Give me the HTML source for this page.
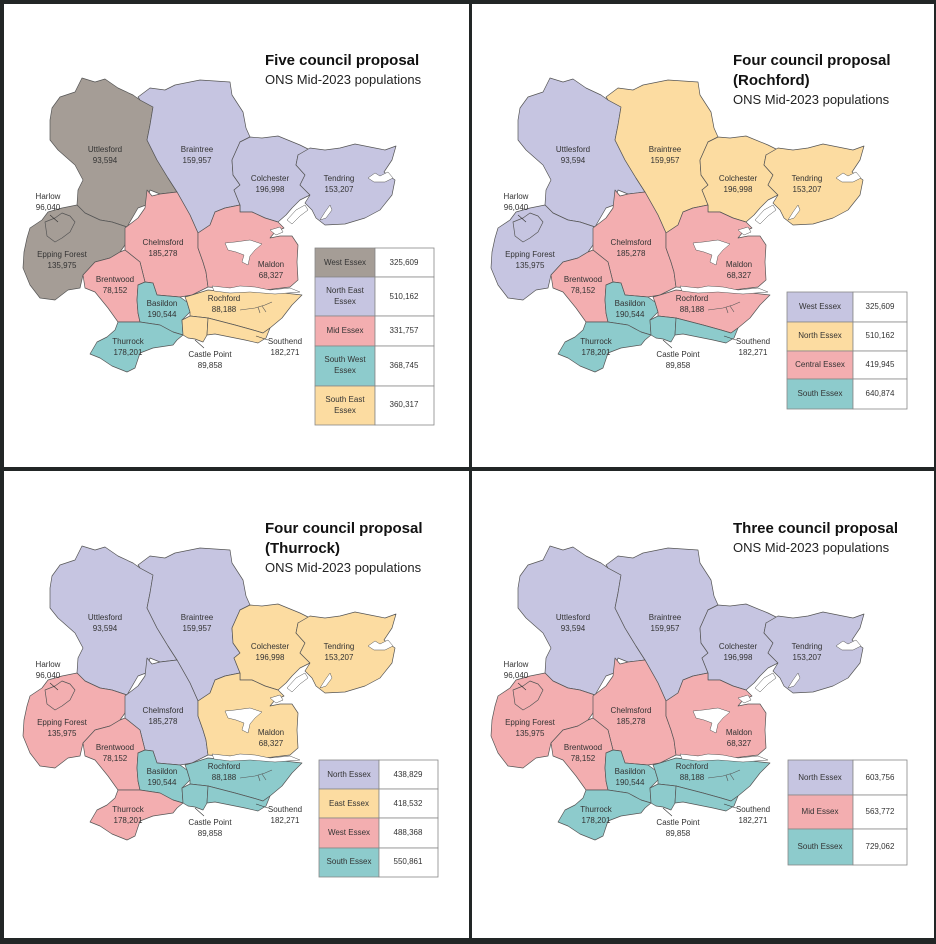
<!DOCTYPE html>
<html><head><meta charset="utf-8"><style>
html,body{margin:0;padding:0;background:#222626;}
svg{display:block}
text{font-family:"Liberation Sans",sans-serif;}
.l{font-size:8px;fill:#333;text-anchor:middle;dominant-baseline:middle}
.t{font-size:15px;font-weight:bold;fill:#111}
.s{font-size:13px;fill:#222}
.g{font-size:8px;fill:#333;text-anchor:middle;dominant-baseline:middle}
path.d{stroke:#555;stroke-width:0.7;stroke-linejoin:round}
</style></head><body>
<svg width="936" height="944" viewBox="0 0 936 944" xmlns="http://www.w3.org/2000/svg">
<defs>
<g id="map">
<!-- Uttlesford -->
<path class="d" fill="var(--utt)" d="M52,108 L60,97 L75,92 L82,78 L95,82 L105,79 L118,88 L133,95 L140,100 L153,107 L150,125 L147,140 L157,160 L168,178 L177,192 L160,194 L150,190 L146,205 L138,208 L127,227 L112,222 L100,220 L85,213 L77,205 L78,190 L83,180 L75,165 L58,150 L50,140 L50,120 Z"/>
<!-- Braintree -->
<path class="d" fill="var(--bra)" d="M138,97 L150,88 L165,90 L175,85 L200,80 L230,82 L232,95 L243,112 L246,128 L250,137 L240,142 L232,160 L233,175 L240,185 L234,190 L240,205 L225,208 L215,212 L210,225 L198,233 L190,215 L177,192 L168,178 L157,160 L147,140 L150,125 L153,107 L140,100 Z"/>
<!-- Colchester -->
<path class="d" fill="var(--col)" d="M250,137 L262,138 L278,136 L300,145 L310,150 L298,155 L296,165 L305,175 L300,185 L310,195 L300,200 L292,208 L286,215 L278,222 L265,218 L252,212 L240,212 L240,205 L234,190 L240,185 L233,175 L232,160 L240,142 Z"/>
<!-- Tendring -->
<path class="d" fill="var(--ten)" d="M298,155 L310,148 L325,150 L340,148 L355,144 L370,147 L385,150 L396,146 L392,160 L384,172 L395,180 L392,195 L380,210 L365,218 L345,224 L325,225 L316,218 L312,210 L305,203 L310,195 L300,185 L305,175 L296,165 Z"/>
<!-- Epping Forest -->
<path class="d" fill="var(--epp)" d="M27,238 L30,228 L42,220 L48,212 L62,208 L77,205 L85,213 L100,220 L112,222 L127,227 L125,245 L120,252 L110,258 L95,262 L83,275 L80,288 L68,290 L55,300 L40,298 L30,285 L23,268 L24,252 Z"/>
<!-- Harlow -->
<path class="d" fill="var(--har)" d="M45,222 L55,218 L62,213 L70,216 L75,222 L70,232 L62,238 L55,242 L47,236 Z"/>
<!-- Chelmsford -->
<path class="d" fill="var(--che)" d="M125,228 L138,218 L145,208 L147,190 L152,196 L160,194 L177,192 L190,215 L198,233 L198,248 L203,262 L206,272 L208,287 L192,295 L180,297 L157,295 L153,283 L145,282 L140,262 L125,250 Z"/>
<!-- Maldon -->
<path class="d" fill="var(--mal)" d="M198,233 L210,225 L215,212 L225,208 L240,205 L240,212 L252,212 L265,218 L278,222 L284,228 L275,232 L270,238 L280,236 L292,236 L298,245 L297,262 L298,280 L290,287 L265,290 L240,288 L220,288 L208,287 L206,272 L203,262 L198,248 Z"/>
<!-- Brentwood -->
<path class="d" fill="var(--bre)" d="M83,275 L95,262 L110,258 L120,252 L125,250 L140,262 L145,282 L138,285 L137,300 L138,313 L140,322 L118,322 L108,308 L95,292 L85,288 Z"/>
<!-- Basildon -->
<path class="d" fill="var(--bas)" d="M138,285 L145,282 L153,283 L157,295 L180,297 L187,302 L190,312 L182,320 L183,335 L173,332 L160,325 L140,322 L138,313 L137,300 Z"/>
<!-- Rochford -->
<path class="d" fill="var(--roc)" d="M185,297 L192,295 L208,290 L230,292 L250,290 L275,292 L302,295 L292,305 L282,318 L270,328 L263,333 L253,330 L235,325 L208,318 L190,316 L190,312 L187,302 Z"/>
<!-- Castle Point -->
<path class="d" fill="var(--cas)" d="M182,320 L190,316 L208,318 L207,335 L203,342 L195,339 L188,338 L183,335 Z"/>
<!-- Southend -->
<path class="d" fill="var(--sou)" d="M208,318 L235,325 L253,330 L263,333 L270,328 L266,338 L258,343 L245,340 L230,337 L215,334 L207,335 Z"/>
<!-- Thurrock -->
<path class="d" fill="var(--thu)" d="M118,322 L140,322 L160,325 L173,332 L183,335 L177,340 L173,345 L153,348 L140,353 L135,368 L127,372 L112,366 L100,358 L90,354 L97,342 L107,337 L115,330 Z"/>
<!-- water -->
<path fill="#fff" stroke="#555" stroke-width="0.5" d="M225,243 L235,242 L250,240 L262,244 L255,250 L250,256 L248,265 L242,262 L244,255 L236,252 L228,250 Z"/>
<path fill="#fff" stroke="#555" stroke-width="0.5" d="M270,230 L280,227 L283,232 L276,235 Z"/>
<path fill="#fff" stroke="#555" stroke-width="0.5" d="M287,220 L296,210 L305,205 L308,210 L300,216 L292,224 Z"/>
<path fill="#fff" stroke="#555" stroke-width="0.5" d="M320,220 L325,212 L330,205 L332,210 L326,218 Z"/>
<path fill="#fff" stroke="#555" stroke-width="0.5" d="M368,178 L375,173 L380,176 L388,172 L393,178 L385,182 L374,182 Z"/>
<path fill="#fff" stroke="#555" stroke-width="0.5" d="M212,286 L230,288 L240,286 L255,287 L270,290 L290,288 L300,292 L275,294 L250,292 L230,293 L214,291 Z"/>
<path fill="none" stroke="#555" stroke-width="0.6" d="M240,310 L255,308 L265,305 L272,302 M262,306 L266,312 M258,307 L260,313"/>
<!-- labels -->
<text class="l" x="105" y="150">Uttlesford</text><text class="l" x="105" y="161">93,594</text>
<text class="l" x="197" y="150">Braintree</text><text class="l" x="197" y="161">159,957</text>
<text class="l" x="270" y="179">Colchester</text><text class="l" x="270" y="190">196,998</text>
<text class="l" x="339" y="179">Tendring</text><text class="l" x="339" y="190">153,207</text>
<text class="l" x="48" y="197">Harlow</text><text class="l" x="48" y="208">96,040</text>
<path d="M50,215 L58,222" stroke="#333" stroke-width="0.6"/>
<text class="l" x="62" y="255">Epping Forest</text><text class="l" x="62" y="266">135,975</text>
<text class="l" x="163" y="243">Chelmsford</text><text class="l" x="163" y="254">185,278</text>
<text class="l" x="271" y="265">Maldon</text><text class="l" x="271" y="276">68,327</text>
<text class="l" x="115" y="280">Brentwood</text><text class="l" x="115" y="291">78,152</text>
<text class="l" x="162" y="304">Basildon</text><text class="l" x="162" y="315">190,544</text>
<text class="l" x="224" y="299">Rochford</text><text class="l" x="224" y="310">88,188</text>
<text class="l" x="128" y="342">Thurrock</text><text class="l" x="128" y="353">178,201</text>
<text class="l" x="210" y="355">Castle Point</text><text class="l" x="210" y="366">89,858</text>
<path d="M204,348 L195,340" stroke="#333" stroke-width="0.6"/>
<text class="l" x="285" y="342">Southend</text><text class="l" x="285" y="353">182,271</text>
<path d="M268,340 L256,336" stroke="#333" stroke-width="0.6"/>
</g>
</defs>

<rect x="4" y="4" width="465" height="463" fill="#fff"/>
<rect x="472" y="4" width="462" height="463" fill="#fff"/>
<rect x="4" y="471" width="465" height="467" fill="#fff"/>
<rect x="472" y="471" width="462" height="467" fill="#fff"/>

<!-- Panel 1 -->
<use href="#map" style="--utt:#a59d96;--epp:#a59d96;--har:#a59d96;--bra:#c6c5e1;--col:#c6c5e1;--ten:#c6c5e1;--che:#f3aeb0;--mal:#f3aeb0;--bre:#f3aeb0;--bas:#8dcbcc;--thu:#8dcbcc;--roc:#fcdca1;--sou:#fcdca1;--cas:#fcdca1"/>
<text class="t" x="265" y="65">Five council proposal</text>
<text class="s" x="265" y="84">ONS Mid-2023 populations</text>
<g stroke="#888" stroke-width="0.8">
<rect x="315" y="248" width="60" height="29" fill="#a59d96"/><rect x="375" y="248" width="59" height="29" fill="#fff"/>
<rect x="315" y="277" width="60" height="39" fill="#c6c5e1"/><rect x="375" y="277" width="59" height="39" fill="#fff"/>
<rect x="315" y="316" width="60" height="30" fill="#f3aeb0"/><rect x="375" y="316" width="59" height="30" fill="#fff"/>
<rect x="315" y="346" width="60" height="40" fill="#8dcbcc"/><rect x="375" y="346" width="59" height="40" fill="#fff"/>
<rect x="315" y="386" width="60" height="39" fill="#fcdca1"/><rect x="375" y="386" width="59" height="39" fill="#fff"/>
</g>
<text class="g" x="345" y="263">West Essex</text><text class="g" x="404" y="263">325,609</text>
<text class="g" x="345" y="291">North East</text><text class="g" x="345" y="302">Essex</text><text class="g" x="404" y="297">510,162</text>
<text class="g" x="345" y="331">Mid Essex</text><text class="g" x="404" y="331">331,757</text>
<text class="g" x="345" y="360">South West</text><text class="g" x="345" y="371">Essex</text><text class="g" x="404" y="366">368,745</text>
<text class="g" x="345" y="400">South East</text><text class="g" x="345" y="411">Essex</text><text class="g" x="404" y="405">360,317</text>

<!-- Panel 2 -->
<use href="#map" transform="translate(468,0)" style="--utt:#c6c5e1;--epp:#c6c5e1;--har:#c6c5e1;--bra:#fcdca1;--col:#fcdca1;--ten:#fcdca1;--che:#f3aeb0;--mal:#f3aeb0;--bre:#f3aeb0;--roc:#f3aeb0;--bas:#8dcbcc;--thu:#8dcbcc;--sou:#8dcbcc;--cas:#8dcbcc"/>
<text class="t" x="733" y="65">Four council proposal</text>
<text class="t" x="733" y="85">(Rochford)</text>
<text class="s" x="733" y="104">ONS Mid-2023 populations</text>
<g stroke="#888" stroke-width="0.8">
<rect x="787" y="292" width="66" height="30" fill="#c6c5e1"/><rect x="853" y="292" width="54" height="30" fill="#fff"/>
<rect x="787" y="322" width="66" height="29" fill="#fcdca1"/><rect x="853" y="322" width="54" height="29" fill="#fff"/>
<rect x="787" y="351" width="66" height="28" fill="#f3aeb0"/><rect x="853" y="351" width="54" height="28" fill="#fff"/>
<rect x="787" y="379" width="66" height="30" fill="#8dcbcc"/><rect x="853" y="379" width="54" height="30" fill="#fff"/>
</g>
<text class="g" x="820" y="307">West Essex</text><text class="g" x="880" y="307">325,609</text>
<text class="g" x="820" y="336">North Essex</text><text class="g" x="880" y="336">510,162</text>
<text class="g" x="820" y="365">Central Essex</text><text class="g" x="880" y="365">419,945</text>
<text class="g" x="820" y="394">South Essex</text><text class="g" x="880" y="394">640,874</text>

<!-- Panel 3 -->
<use href="#map" transform="translate(0,468)" style="--utt:#c6c5e1;--bra:#c6c5e1;--che:#c6c5e1;--col:#fcdca1;--ten:#fcdca1;--mal:#fcdca1;--epp:#f3aeb0;--har:#f3aeb0;--bre:#f3aeb0;--thu:#f3aeb0;--bas:#8dcbcc;--roc:#8dcbcc;--sou:#8dcbcc;--cas:#8dcbcc"/>
<text class="t" x="265" y="533">Four council proposal</text>
<text class="t" x="265" y="553">(Thurrock)</text>
<text class="s" x="265" y="572">ONS Mid-2023 populations</text>
<g stroke="#888" stroke-width="0.8">
<rect x="319" y="760" width="60" height="29" fill="#c6c5e1"/><rect x="379" y="760" width="59" height="29" fill="#fff"/>
<rect x="319" y="789" width="60" height="29" fill="#fcdca1"/><rect x="379" y="789" width="59" height="29" fill="#fff"/>
<rect x="319" y="818" width="60" height="30" fill="#f3aeb0"/><rect x="379" y="818" width="59" height="30" fill="#fff"/>
<rect x="319" y="848" width="60" height="29" fill="#8dcbcc"/><rect x="379" y="848" width="59" height="29" fill="#fff"/>
</g>
<text class="g" x="349" y="775">North Essex</text><text class="g" x="408" y="775">438,829</text>
<text class="g" x="349" y="804">East Essex</text><text class="g" x="408" y="804">418,532</text>
<text class="g" x="349" y="833">West Essex</text><text class="g" x="408" y="833">488,368</text>
<text class="g" x="349" y="862">South Essex</text><text class="g" x="408" y="862">550,861</text>

<!-- Panel 4 -->
<use href="#map" transform="translate(468,468)" style="--utt:#c6c5e1;--bra:#c6c5e1;--col:#c6c5e1;--ten:#c6c5e1;--epp:#f3aeb0;--har:#f3aeb0;--bre:#f3aeb0;--che:#f3aeb0;--mal:#f3aeb0;--bas:#8dcbcc;--roc:#8dcbcc;--sou:#8dcbcc;--cas:#8dcbcc;--thu:#8dcbcc"/>
<text class="t" x="733" y="533">Three council proposal</text>
<text class="s" x="733" y="552">ONS Mid-2023 populations</text>
<g stroke="#888" stroke-width="0.8">
<rect x="788" y="760" width="65" height="35" fill="#c6c5e1"/><rect x="853" y="760" width="54" height="35" fill="#fff"/>
<rect x="788" y="795" width="65" height="34" fill="#f3aeb0"/><rect x="853" y="795" width="54" height="34" fill="#fff"/>
<rect x="788" y="829" width="65" height="36" fill="#8dcbcc"/><rect x="853" y="829" width="54" height="36" fill="#fff"/>
</g>
<text class="g" x="820" y="778">North Essex</text><text class="g" x="880" y="778">603,756</text>
<text class="g" x="820" y="812">Mid Essex</text><text class="g" x="880" y="812">563,772</text>
<text class="g" x="820" y="847">South Essex</text><text class="g" x="880" y="847">729,062</text>
</svg>
</body></html>
